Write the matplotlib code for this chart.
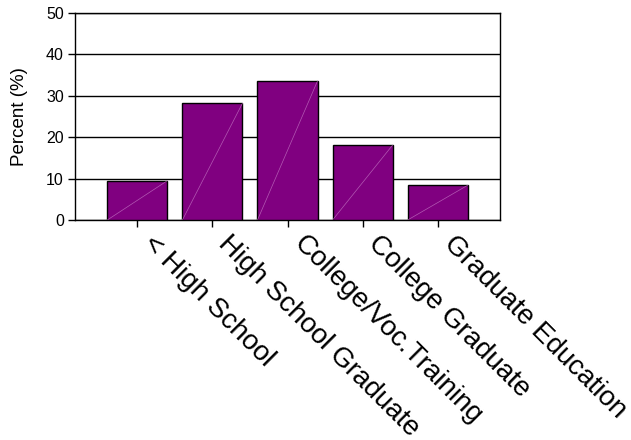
import matplotlib
matplotlib.use("Agg")
import matplotlib.pyplot as plt
import matplotlib.transforms as mtransforms
import numpy as np

plt.rcParams['font.family'] = ['Liberation Sans', 'DejaVu Sans']

# education levels and share of respondents
categories = ["< High School", "High School Graduate", "College/Voc.Training",
              "College Graduate", "Graduate Education"]
percent = [9.5, 28.2, 33.6, 18.1, 8.4]
yticks = [0, 10, 20, 30, 40, 50]

fig = plt.figure(figsize=(6.31, 4.40), dpi=100)
ax = fig.add_axes([0.1189, 0.5, 0.6735, 0.4705])

x = np.arange(len(categories))
width = 0.8
ax.bar(x, percent, width=width, color="#800080", edgecolor="black",
       linewidth=1.0, zorder=3)

# faint diagonal streak inside each bar
for xi, v in zip(x, percent):
    ax.plot([xi - width / 2, xi + width / 2], [0, v], color="#c070c0",
            linewidth=0.5, alpha=0.8, zorder=4)

ax.set_xlim(-0.83, len(categories) - 1 + 0.83)
ax.set_ylim(0, 50)
ax.set_yticks(yticks)
ax.yaxis.grid(True, color="black", linewidth=1.0, zorder=0)

for s in ax.spines.values():
    s.set_color("black")
    s.set_linewidth(1.0)

# slanted category labels, placed just right of each tick
ax.set_xticks(x)
ax.set_xticklabels([])
shift = mtransforms.ScaledTranslation(0.19, -0.11, fig.dpi_scale_trans)
for xi, name in zip(x, categories):
    ax.text(xi, 0, name, transform=ax.get_xaxis_transform() + shift,
            rotation=-45, ha="left", va="top", rotation_mode="anchor",
            fontsize=20, clip_on=False)

ax.tick_params(axis="x", length=5, width=1, pad=4)
ax.tick_params(axis="y", length=5, width=1, labelsize=11.5, pad=3)
ax.set_ylabel("Percent (%)", fontsize=13.5, labelpad=13)

fig.savefig("out.png", dpi=100)
